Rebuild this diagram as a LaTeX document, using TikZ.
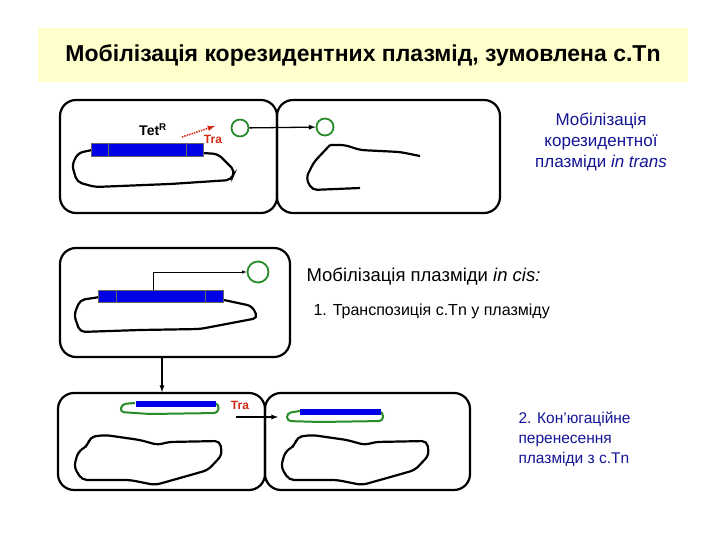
\documentclass[tikz,border=0pt]{standalone}
\usepackage{fontspec}
\setmainfont{Liberation Sans}
\definecolor{titlebg}{RGB}{255,255,204}
\definecolor{txtblue}{RGB}{20,20,150}
\definecolor{pgreen}{RGB}{40,140,40}
\definecolor{barblue}{RGB}{0,0,230}
\definecolor{trared}{RGB}{210,40,20}
\begin{document}
\begin{tikzpicture}[x=1pt,y=-1pt,
  cell/.style={draw=black,line width=2.2pt,rounded corners=16pt},
  chrom/.style={draw=black,line width=2.2pt,rounded corners=5pt},
  bar/.style={draw=black!60,fill=barblue,line width=0.4pt},
  plas/.style={draw=pgreen,line width=2pt},
  arr/.style={-latex,line width=1.3pt},
  lbl/.style={text=txtblue,align=left}]
\useasboundingbox (0,0) rectangle (720,540);
\node[fill=titlebg,minimum width=650pt,minimum height=54pt,font=\bfseries\fontsize{23}{26}\selectfont] (title) at (363,55) {Мобілізація корезидентних плазмід, зумовлена c.Tn};
% row 1
\draw[cell] (60,100) rectangle (277,213);
\draw[cell] (277,100) rectangle (500,213);
\draw[chrom] (92,150) -- (78,153) -- (72,165) -- (77,182) -- (95,187) -- (170,184) -- (231,180) -- (235,171) -- (218,154) -- (203,153);
\draw[bar] (91,143) rectangle (203,156);
\draw[black!60] (108,143)--(108,156) (186,143)--(186,156);
\node[font=\bfseries\fontsize{14}{16}\selectfont] (tet) at (153,130) {Tet\textsuperscript{R}};
\coordinate (tra0) at (182,137);
\coordinate (tra1) at (215,126);
\draw[trared,densely dotted,line width=1.5pt,-latex] (tra0) -- (tra1);
\node[text=trared,font=\bfseries\fontsize{12}{14}\selectfont] (tra) at (213,139) {Tra};
\node[draw=pgreen,circle,line width=1.8pt,minimum size=17pt,inner sep=0] (p1) at (240,128) {};
\node[draw=pgreen,circle,line width=1.8pt,minimum size=17pt,inner sep=0] (p2) at (325,127) {};
\draw[arr] (p1) -- (p2);
\draw[chrom] (330,145) -- (345,145) -- (360,150) -- (400,152) -- (420,156);
\draw[chrom] (330,145) -- (314,162) -- (306,178) -- (312,190) -- (360,188);
\node[lbl,align=center,font=\fontsize{17}{21}\selectfont] (t1) at (601,142) {Мобілізація\\корезидентної\\плазміди \textit{in trans}};
% row 2
\draw[cell] (60,248) rectangle (290,357);
\draw[chrom] (100,297) -- (80,300) -- (74,315) -- (80,332) -- (140,330) -- (200,329) -- (258,318) -- (252,306) -- (224,300);
\draw[bar] (98,290) rectangle (223,302);
\draw[black!60] (116,290)--(116,302) (205,290)--(205,302);
\node[draw=pgreen,circle,line width=1.8pt,minimum size=21pt,inner sep=0] (p3) at (258,272) {};
\coordinate (c1) at (153,290);
\draw[arr,line width=0.6pt] (c1) |- (p3);
\node[anchor=west,font=\fontsize{18.5}{21}\selectfont] (t2) at (303,277) {Мобілізація плазміди \textit{in cis:}};
\node[anchor=west,font=\fontsize{16}{19}\selectfont] (t3) at (310,311) {1. Транспозиція c.Tn у плазміду};
\coordinate (d0) at (162,356);
\coordinate (d1) at (162,392);
\draw[arr] (d0) -- (d1);
% row 3
\draw[cell] (58,393) rectangle (265,490);
\draw[cell] (265,393) rectangle (470,490);
\draw[plas,rounded corners=4pt] (135,403) -- (122,404) -- (120,412) -- (150,414) -- (218,413) -- (219,404) -- (214,403);
\draw[fill=barblue,draw=barblue] (136,401) rectangle (215,406);
\node[text=trared,font=\bfseries\fontsize{12}{14}\selectfont] (tra2) at (240,405) {Tra};
\draw[plas,rounded corners=4pt] (300,411) -- (287,413) -- (287,421) -- (320,422) -- (383,421) -- (383,412) -- (378,411);
\draw[fill=barblue,draw=barblue] (300,409) rectangle (380,414);
\coordinate (a0) at (236,417);
\coordinate (a1) at (278,417);
\draw[arr] (a0) -- (a1);
\foreach \ox in {0,207}{
\draw[chrom,xshift=\ox] (90,437) -- (105,435) -- (140,440) -- (158,445) -- (168,442) -- (220,441) -- (222,455) -- (208,470) -- (180,478) -- (155,485) -- (130,480) -- (82,480) -- (74,467) -- (78,452) -- (88,445) -- cycle;}
\node[lbl,font=\fontsize{15.5}{20}\selectfont,anchor=west] (t4) at (515,439) {2. Кон’югаційне\\перенесення\\плазміди з c.Tn};
\end{tikzpicture}
\end{document}
